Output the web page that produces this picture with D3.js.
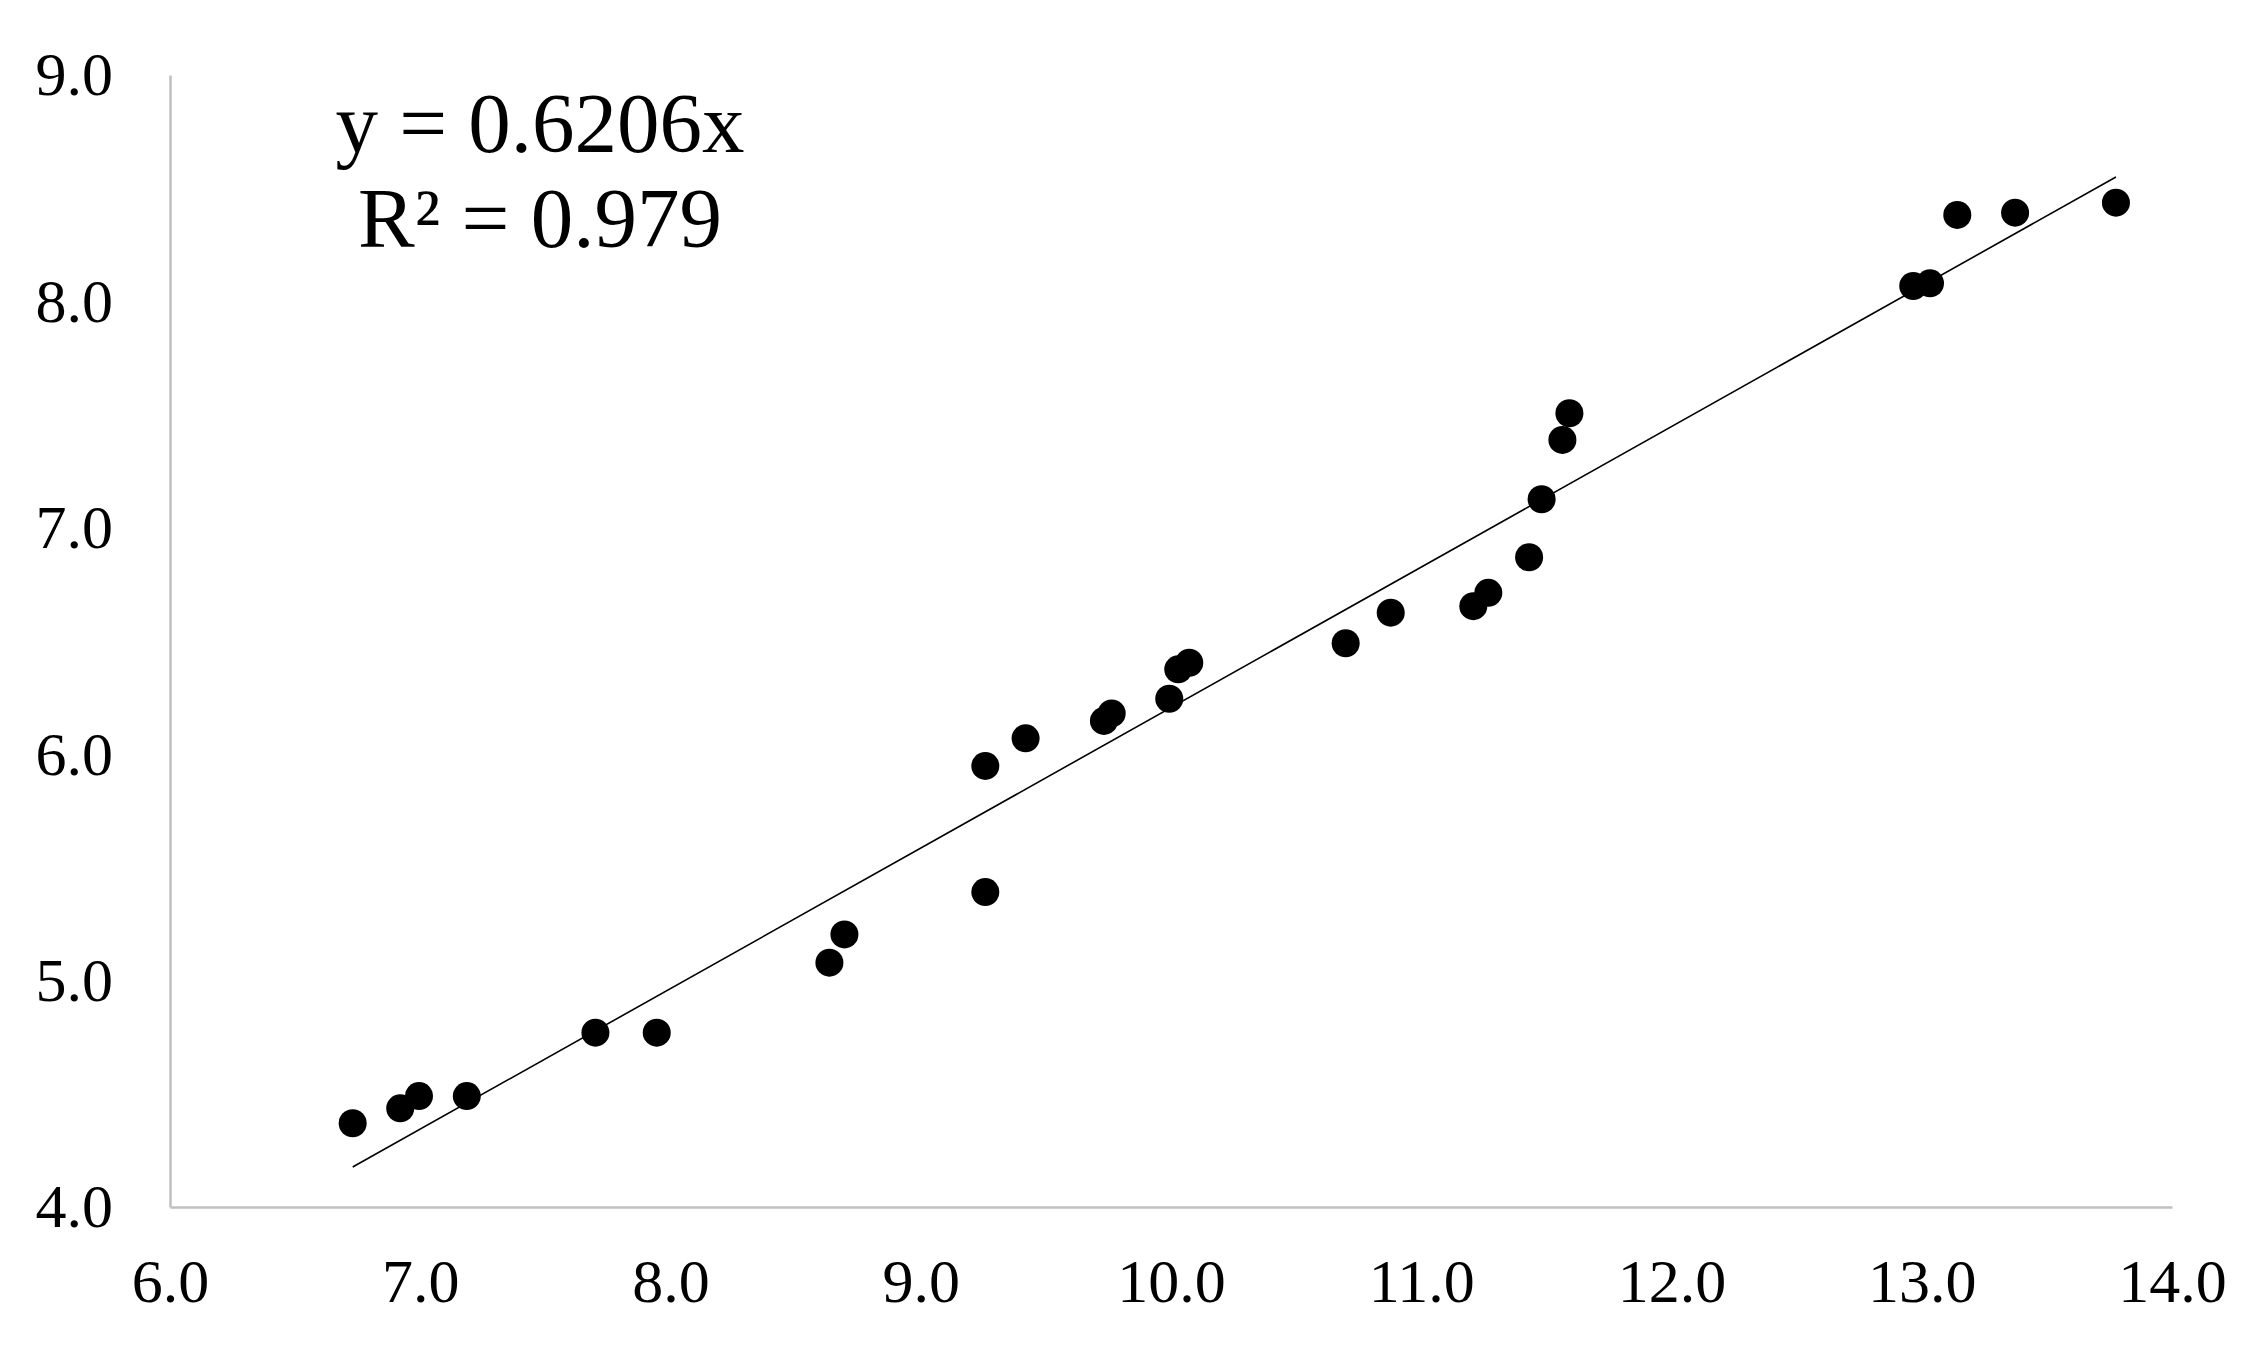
<!DOCTYPE html>
<html>
<head>
<meta charset="utf-8">
<script src="https://cdn.jsdelivr.net/npm/d3@7"></script>
<style>
  body { margin: 0; background: #fff; }
  svg text { font-family: "Liberation Serif", "Times New Roman", serif; fill: #000; }
</style>
</head>
<body>
<script>
// data
var xValues = [6.73, 6.92, 6.995, 7.186, 7.70, 7.945,
               8.635, 8.695, 9.258, 9.258, 9.419, 9.732, 9.763,
               9.993, 10.029, 10.073,
               10.698, 10.878, 11.208, 11.268, 11.431, 11.481, 11.564, 11.592,
               12.966, 13.033, 13.142, 13.373, 13.776];
var yValues = [4.37, 4.436, 4.49, 4.49, 4.77, 4.77,
               5.079, 5.204, 5.391, 5.948, 6.070, 6.147, 6.18,
               6.245, 6.375, 6.404,
               6.49, 6.625, 6.654, 6.713, 6.87, 7.126, 7.388, 7.506,
               8.068, 8.080, 8.382, 8.392, 8.436];
var xTicks = [6, 7, 8, 9, 10, 11, 12, 13, 14];
var yTicks = [4, 5, 6, 7, 8, 9];
var slope = 0.6206;
var equationLines = ["y = 0.6206x", "R\u00b2 = 0.979"];

// set the dimensions and margins of the graph
var margin = {top: 75, right: 91, bottom: 141, left: 170},
    fullWidth = 2263,
    fullHeight = 1348,
    width = fullWidth - margin.left - margin.right,
    height = fullHeight - margin.top - margin.bottom;

var x = d3.scaleLinear().domain([6, 14]).range([0, width]);
var y = d3.scaleLinear().domain([4, 9]).range([height, 0]);

var svg = d3.select("body").append("svg")
    .attr("width", fullWidth)
    .attr("height", fullHeight)
    .append("g")
    .attr("transform", "translate(" + margin.left + "," + margin.top + ")");

var fmt = d3.format(".1f");

// x axis
var xAxis = svg.append("g")
    .attr("transform", "translate(0," + height + ")")
    .call(d3.axisBottom(x).tickValues(xTicks).tickFormat(fmt)
        .tickSize(0).tickPadding(51));

// y axis
var yAxis = svg.append("g")
    .call(d3.axisLeft(y).tickValues(yTicks).tickFormat(fmt)
        .tickSize(0).tickPadding(57));

[xAxis, yAxis].forEach(function(g) {
    g.select(".domain").attr("stroke", "#bfbfbf").attr("stroke-width", 2.5);
    g.selectAll("text")
        .style("font-family", "'Liberation Serif', 'Times New Roman', serif")
        .style("font-size", "62px")
        .attr("fill", "#000");
});

var points = xValues.map(function(d, i) { return {x: d, y: yValues[i]}; });

// trendline through the origin, drawn over the data range
var xExt = d3.extent(xValues);
var trend = d3.line()
    .x(function(d) { return x(d); })
    .y(function(d) { return y(slope * d); });

svg.append("path")
    .datum(xExt)
    .attr("fill", "none")
    .attr("stroke", "#000")
    .attr("stroke-width", 1.6)
    .attr("d", trend);

svg.selectAll("circle.pt")
    .data(points)
    .enter().append("circle")
    .attr("class", "pt")
    .attr("cx", function(d) { return x(d.x); })
    .attr("cy", function(d) { return y(d.y); })
    .attr("r", 14)
    .attr("fill", "#000");

// equation label
svg.append("text")
    .attr("x", 370)
    .attr("y", 77)
    .attr("text-anchor", "middle")
    .style("font-size", "85px")
    .selectAll("tspan")
    .data(equationLines)
    .enter().append("tspan")
    .attr("x", 370)
    .attr("dy", function(d, i) { return i === 0 ? 0 : 95; })
    .text(function(d) { return d; });
</script>
</body>
</html>
